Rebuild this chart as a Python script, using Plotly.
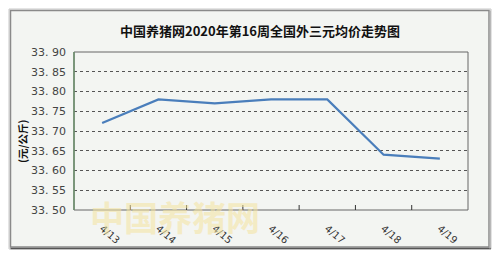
import plotly.graph_objects as go

dates = ["4/13", "4/14", "4/15", "4/16", "4/17", "4/18", "4/19"]
prices = [33.72, 33.78, 33.77, 33.78, 33.78, 33.64, 33.63]
y_ticks = [33.50, 33.55, 33.60, 33.65, 33.70, 33.75, 33.80, 33.85, 33.90]
y_labels = ["33. 50", "33. 55", "33. 60", "33. 65", "33. 70", "33. 75", "33. 80", "33. 85", "33. 90"]
title = "中国养猪网2020年第16周全国外三元均价走势图"
y_title = "(元/公斤)"

W, H = 500, 258
L, R, T, B = 74, 32, 52, 48
pw, ph = W - L - R, H - T - B

def px(x):
    return (x - L) / pw

def py(y):
    return (H - B - y) / ph

fig = go.Figure()
fig.add_trace(go.Scatter(
    x=list(range(len(dates))), y=prices, mode="lines",
    line=dict(color="#4a7ebb", width=2.2), hoverinfo="skip", showlegend=False,
))

bg = "#f3f5f2"
shapes = [
    dict(type="rect", xref="paper", yref="paper", x0=px(9), x1=px(491), y0=py(249), y1=py(9),
         line=dict(color="#c8c8c8", width=1), fillcolor="#ffffff", layer="below"),
    dict(type="rect", xref="paper", yref="paper", x0=px(10.5), x1=px(489), y0=py(247), y1=py(10.5),
         line=dict(color="#8a8a8a", width=1.5), fillcolor=bg, layer="below"),
    dict(type="line", xref="paper", yref="paper", x0=px(10.5), x1=px(491), y0=py(248.5), y1=py(248.5),
         line=dict(color="#555555", width=1.5), layer="below"),
    dict(type="line", xref="paper", yref="paper", x0=px(490), x1=px(490), y0=py(248.5), y1=py(10.5),
         line=dict(color="#aaaaaa", width=1.5), layer="below"),
    dict(type="rect", xref="paper", yref="paper", x0=0, x1=1, y0=0, y1=1,
         line=dict(color="#666666", width=1), layer="above"),
    dict(type="line", xref="paper", yref="paper", x0=0, x1=0, y0=0, y1=1,
         line=dict(color="#6b8f6b", width=1.5), layer="above"),
]
for i in range(1, len(dates)):
    shapes.append(dict(type="line", xref="x", yref="paper", x0=i - 0.5, x1=i - 0.5,
                       y0=0, y1=5 / ph, line=dict(color="#333333", width=1)))

fig.update_layout(
    width=W, height=H,
    margin=dict(l=L, r=R, t=T, b=B),
    paper_bgcolor="white", plot_bgcolor=bg,
    shapes=shapes,
    xaxis=dict(
        range=[-0.5, len(dates) - 0.5],
        tickmode="array", tickvals=list(range(len(dates))), ticktext=dates,
        tickangle=40, showgrid=False, zeroline=False, showline=False,
        ticks="", tickfont=dict(family="DejaVu Sans", size=10, color="#333333"),
        ticklabelstandoff=10,
    ),
    yaxis=dict(
        range=[33.50, 33.90],
        tickmode="array", tickvals=y_ticks, ticktext=y_labels,
        showgrid=True, gridcolor="#555555", griddash="dot", gridwidth=1,
        zeroline=False, showline=False, ticks="",
        tickfont=dict(family="DejaVu Sans", size=11, color="#444444"),
        ticklabelstandoff=7,
    ),
    annotations=[
        dict(text="<b>" + title + "</b>", xref="paper", yref="paper",
             x=px(260), y=py(31), showarrow=False, xanchor="center", yanchor="middle",
             font=dict(family="Noto Sans CJK SC", size=13, color="#111111")),
        dict(text="<b>" + y_title + "</b>", xref="paper", yref="paper",
             x=px(22), y=py(141), showarrow=False, textangle=-90,
             xanchor="center", yanchor="middle",
             font=dict(family="Noto Sans CJK SC", size=10.5, color="#111111")),
        dict(text="<b>中国养猪网</b>", xref="paper", yref="paper",
             x=px(175), y=py(216), showarrow=False, xanchor="center", yanchor="middle",
             font=dict(family="Noto Sans CJK SC", size=34, color="#f3e3a0"), opacity=0.55),
    ],
)

fig.write_html("out.html")
